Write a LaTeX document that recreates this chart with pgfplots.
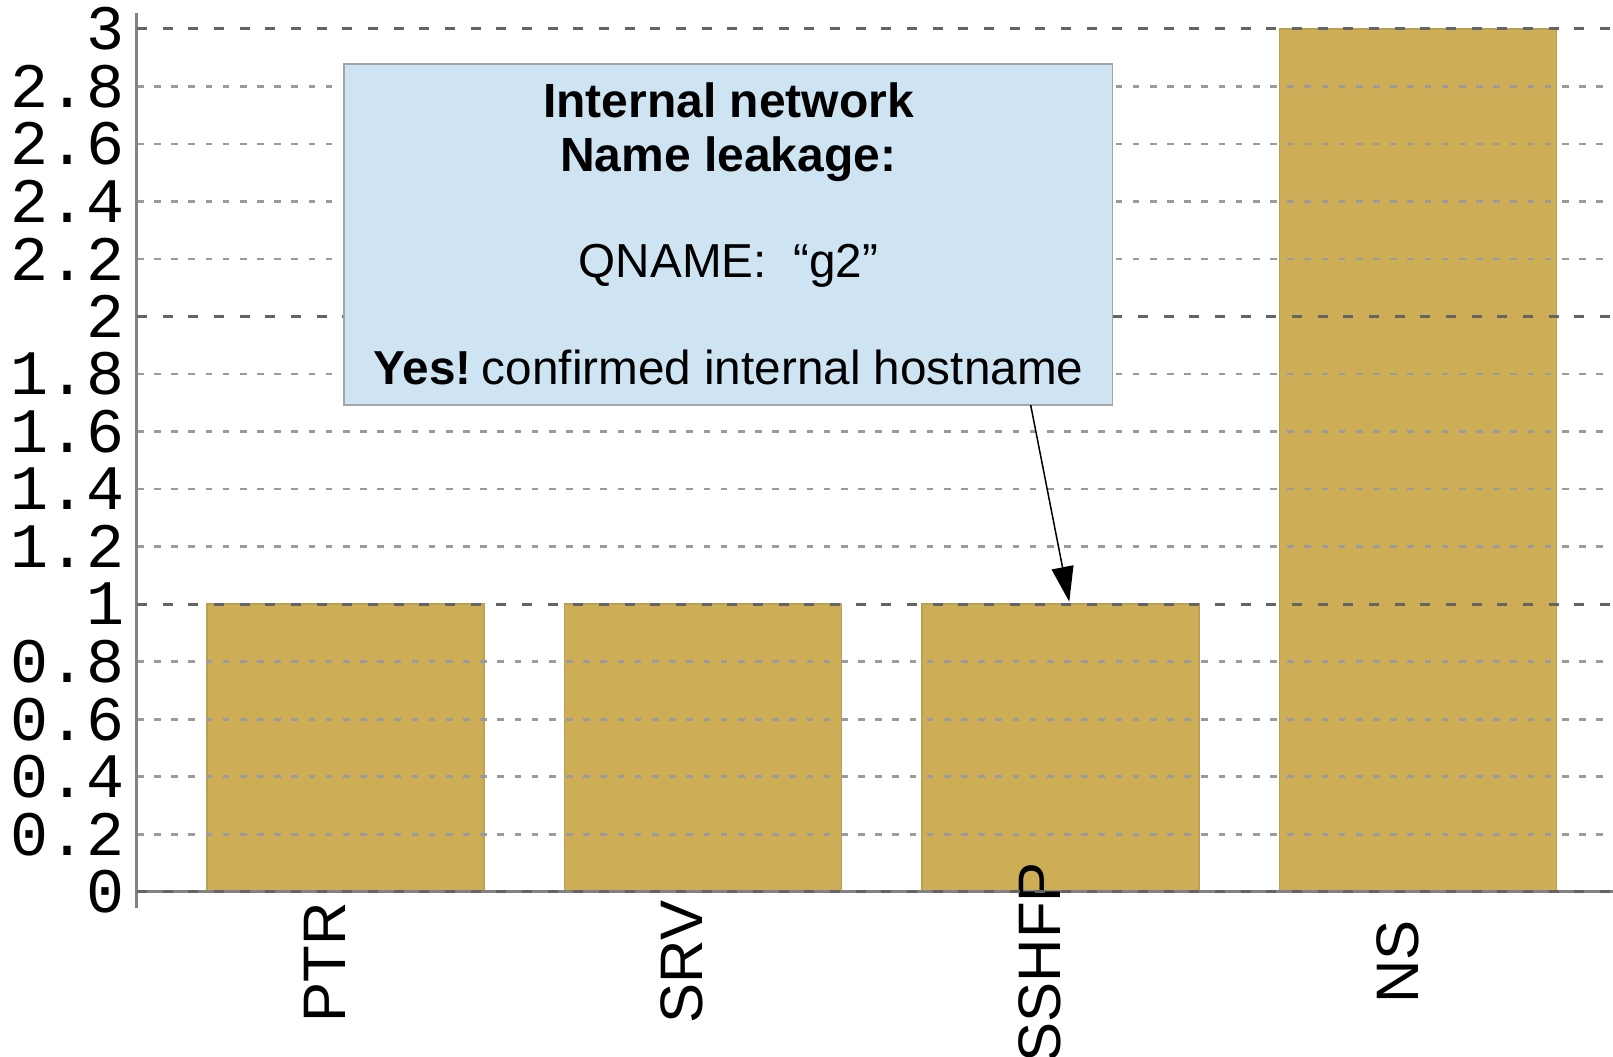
\documentclass[border=0pt]{standalone}
\usepackage{fontspec}
\setmainfont{Liberation Sans}
\setmonofont{Liberation Mono}
\usepackage{pgfplots}
\pgfplotsset{compat=1.18}
\usetikzlibrary{arrows.meta}
\definecolor{barc}{RGB}{205,174,86}
\definecolor{boxc}{RGB}{207,228,242}
\definecolor{boxborder}{RGB}{160,166,172}
\definecolor{majgrid}{RGB}{100,100,100}
\definecolor{mingrid}{RGB}{155,155,155}
\definecolor{axc}{RGB}{130,130,130}
\begin{document}
\begin{tikzpicture}
\begin{axis}[
  scale only axis, width=442.8pt, height=268.5pt,
  xmin=-0.5832, xmax=3.5455, ymin=-0.0567, ymax=3.0553,
  axis x line*=middle, axis y line*=left,
  axis line style={draw=axc, line width=0.9pt},
  axis on top,
  ybar, bar width=0.775,
  /pgf/number format/assume math mode=true,
  xtick={0,1,2,3}, xticklabels={PTR,SRV,SSHFP,NS},
  xticklabel style={font=\fontsize{18}{18}\selectfont, yshift=-21.1pt, rotate=90, anchor=base, inner sep=0pt},
  ytick={0.2,0.4,0.6,0.8,1.2,1.4,1.6,1.8,2.2,2.4,2.6,2.8},
  yticklabels={0.2,0.4,0.6,0.8,1.2,1.4,1.6,1.8,2.2,2.4,2.6,2.8},
  extra y ticks={0,1,2,3}, extra y tick labels={0,1,2,3},
  extra y tick style={major grid style={draw=majgrid, line width=0.9pt, dash pattern=on 3pt off 4.7pt}},
  yticklabel style={font=\ttfamily\fontsize{19}{19}\selectfont, anchor=east, inner sep=0pt, xshift=-3.6pt},
  ymajorgrids,
  major grid style={draw=mingrid, line width=0.85pt, dash pattern=on 2pt off 3.15pt},
  major tick length=0pt,
]
\addplot[fill=barc, draw=barc!92!black, line width=0.4pt] coordinates {(0,1) (1,1) (2,1) (3,3)};
\coordinate (bl) at (axis cs:-0.9664,-0.5716);
\coordinate (tr) at (axis cs:3.5455,3.1005);
\coordinate (boxa) at (axis cs:-0.0042,1.692);
\coordinate (boxb) at (axis cs:2.146,2.878);
\coordinate (l1) at (axis cs:1.071,2.6926);
\coordinate (l2) at (axis cs:1.071,2.5035);
\coordinate (l3) at (axis cs:1.071,2.1346);
\coordinate (l4) at (axis cs:1.071,1.7622);
\coordinate (as) at (axis cs:1.9166,1.692);
\coordinate (at) at (axis cs:2.0246,1.0083);
\end{axis}
\fill[boxc] (boxa) rectangle (boxb);
\draw[boxborder, line width=0.4pt] (boxa) rectangle (boxb);
\node[anchor=base, inner sep=0pt, font=\fontsize{14.4}{16}\selectfont\bfseries] at (l1) {Internal network};
\node[anchor=base, inner sep=0pt, font=\fontsize{14.4}{16}\selectfont\bfseries] at (l2) {Name leakage:};
\node[anchor=base, inner sep=0pt, font=\fontsize{14.3}{16}\selectfont] at (l3) {QNAME:\ \ “g2”};
\node[anchor=base, inner sep=0pt, font=\fontsize{14.3}{16}\selectfont] at (l4) {\textbf{Yes!}\hspace{0.22em}confirmed internal hostname};
\draw[line width=0.45pt, -{Triangle[length=10.5pt,width=6.6pt]}] (as) -- (at);
\pgfresetboundingbox
\path[use as bounding box] (bl) rectangle (tr);
\end{tikzpicture}
\end{document}
